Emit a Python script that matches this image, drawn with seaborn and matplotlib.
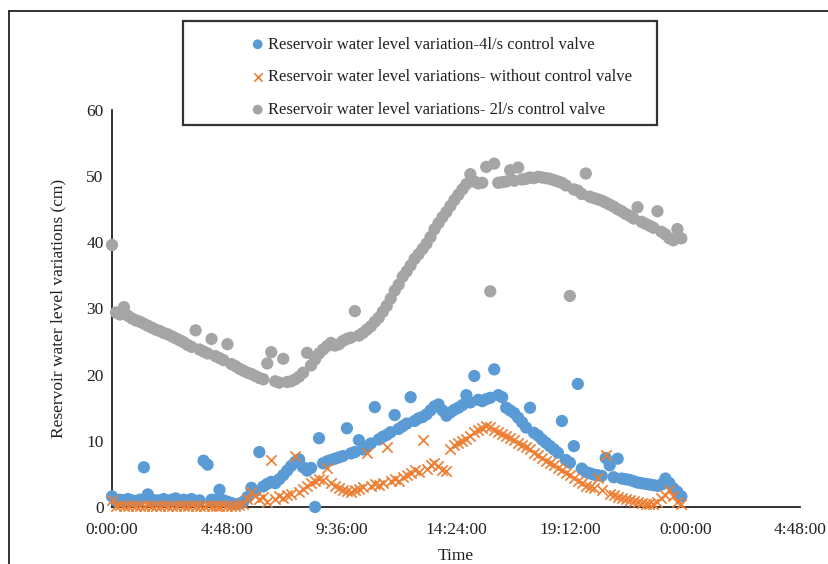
import numpy as np
import pandas as pd
import matplotlib
matplotlib.use("Agg")
import matplotlib.pyplot as plt
from matplotlib.lines import Line2D
from matplotlib.patches import Rectangle
import seaborn as sns

# ---- data (10-minute readings over one day) ----
level_4ls = [
    1.6, 0.9, 1.1, 1.0, 1.2, 1.0, 0.9, 1.1, 6.0, 1.9, 1.1, 1.0,
    1.0, 1.2, 0.9, 1.1, 1.3, 1.0, 1.1, 1.0, 1.2, 0.9, 1.0, 7.0,
    6.4, 1.1, 1.0, 2.6, 1.0, 0.8, 0.6, 0.4, 0.5, 0.8, 1.5, 2.9,
    2.4, 8.3, 3.1, 3.5, 3.8, 3.6, 4.2, 4.8, 5.5, 6.2, 6.8, 7.2,
    6.0, 5.5, 5.9, 0.0, 10.4, 6.6, 6.9, 7.1, 7.3, 7.5, 7.7, 11.9,
    8.1, 8.3, 10.1, 8.7, 9.1, 9.6, 15.1, 10.2, 10.6, 10.9, 11.3, 13.9,
    11.8, 12.2, 12.6, 16.6, 13.0, 13.4, 13.6, 14.0, 14.6, 15.2, 15.5, 14.6,
    13.8, 14.3, 14.7, 15.0, 15.4, 16.9, 15.8, 19.8, 16.2, 16.0, 16.3, 16.5,
    20.8, 16.9, 16.6, 15.0, 14.6, 14.2, 13.5, 12.8, 12.0, 15.0, 11.2, 10.8,
    10.2, 9.7, 9.2, 8.7, 8.2, 13.0, 7.1, 6.7, 9.2, 18.6, 5.8, 5.3,
    5.1, 4.9, 4.8, 4.7, 7.4, 6.3, 4.5, 7.3, 4.3, 4.2, 4.1, 3.9,
    3.7, 3.6, 3.5, 3.4, 3.3, 3.2, 3.4, 4.3, 3.6, 2.8, 2.3, 1.6,
]
level_none = [
    1.0, 0.2, 0.3, 0.1, 0.2, 0.3, 0.2, 0.1, 0.2, 0.3, 0.2, 0.2,
    0.1, 0.3, 0.2, 0.2, 0.1, 0.3, 0.2, 0.2, 0.3, 0.1, 0.2, 0.2,
    0.3, 0.2, 0.1, 0.2, 0.3, 0.2, 0.2, 0.2, 0.3, 0.5, 1.2, 2.2,
    1.6, 1.2, 1.5, 0.8, 7.1, 1.2, 1.6, 1.4, 1.8, 2.0, 7.7, 2.3,
    2.7, 3.1, 3.6, 4.0, 4.3, 4.1, 5.9, 3.6, 3.2, 2.9, 2.6, 2.4,
    2.3, 2.5, 2.7, 3.0, 8.1, 3.2, 3.5, 3.3, 3.7, 9.0, 4.0, 4.2,
    4.0, 4.5, 4.8, 5.2, 5.6, 5.3, 10.2, 5.8, 6.3, 6.6, 6.2, 5.6,
    5.4, 8.8, 9.3, 9.6, 9.9, 10.3, 10.8, 11.3, 11.7, 12.0, 12.3, 12.1,
    11.6, 11.3, 11.0, 10.8, 10.4, 10.1, 9.7, 9.4, 9.1, 8.7, 8.2, 7.8,
    7.4, 7.0, 6.7, 6.3, 5.9, 5.6, 5.2, 4.8, 4.4, 4.0, 3.6, 3.2,
    3.0, 2.8, 4.4, 2.5, 7.9, 2.0, 1.8, 1.5, 1.3, 1.2, 1.1, 0.9,
    0.7, 0.6, 0.5, 0.4, 0.5, 0.8, 1.3, 1.8, 2.6, 1.6, 0.8, 0.5,
]
level_2ls = [
    39.6, 29.4, 29.1, 30.2, 28.9, 28.5, 28.2, 28.0, 27.7, 27.4, 27.1, 26.8,
    26.6, 26.3, 26.1, 25.8, 25.5, 25.2, 24.9, 24.5, 24.2, 26.7, 23.8, 23.5,
    23.2, 25.4, 22.8, 22.5, 22.2, 24.6, 21.6, 21.3, 20.9, 20.6, 20.3, 20.1,
    19.8, 19.5, 19.3, 21.7, 23.4, 19.0, 18.8, 22.4, 18.9, 19.0, 19.3, 19.7,
    20.3, 23.3, 21.4, 22.3, 23.2, 23.8, 24.3, 24.8, 24.4, 24.6, 25.1, 25.4,
    25.6, 29.6, 25.9, 26.3, 26.8, 27.3, 28.0, 28.6, 29.5, 30.4, 31.5, 32.7,
    33.6, 34.8, 35.6, 36.5, 37.5, 38.2, 39.0, 39.8, 40.8, 42.0, 42.9, 43.8,
    44.6, 45.5, 46.4, 47.2, 48.0, 48.8, 50.3, 49.2, 48.9, 49.0, 51.4, 32.6,
    51.9, 49.0, 49.1, 49.2, 50.9, 49.3, 51.3, 49.5, 49.6, 49.8, 49.7, 49.9,
    49.8, 49.7, 49.6, 49.4, 49.2, 49.0, 48.6, 31.9, 48.0, 47.8, 47.3, 50.4,
    46.9, 46.7, 46.5, 46.3, 46.0, 45.7, 45.4, 45.0, 44.7, 44.3, 44.0, 43.6,
    45.3, 43.1, 42.8, 42.5, 42.2, 44.7, 41.6, 41.2, 40.6, 40.3, 42.0, 40.6,
]
time_days = np.arange(len(level_2ls)) / 144.0  # 10-minute steps, in days

tick_pos = [0, 0.2, 0.4, 0.6, 0.8, 1.0, 1.2]
tick_labels = ["0:00:00", "4:48:00", "9:36:00", "14:24:00", "19:12:00", "0:00:00", "4:48:00"]

names = ["Reservoir water level variation-4l/s control valve",
         "Reservoir water level variations- without control valve",
         "Reservoir water level variations- 2l/s control valve"]
colors = ["#5B9BD5", "#ED7D31", "#A5A5A5"]

# ---- plot ----
sns.set_theme(style="white")
plt.rcParams["font.family"] = ["Liberation Serif", "DejaVu Serif"]

fig = plt.figure(figsize=(8.29, 5.64), dpi=100)
ax = fig.add_axes([112/829, 1-507/564, (800-112)/829, (507-110)/564])

sns.scatterplot(x=time_days, y=level_4ls, ax=ax, color=colors[0], s=78,
                edgecolor="none", marker="o", label=names[0], zorder=2, clip_on=False)
sns.scatterplot(x=time_days, y=level_none, ax=ax, color=colors[1], s=55,
                marker="x", linewidth=1.2, label=names[1], zorder=3, clip_on=False)
sns.scatterplot(x=time_days, y=level_2ls, ax=ax, color=colors[2], s=78,
                edgecolor="none", marker="o", label=names[2], zorder=4, clip_on=False)

ax.set_xlim(0, 1.2)
ax.set_ylim(0, 60)
ax.set_xticks(tick_pos)
ax.set_xticklabels(tick_labels)
ax.set_yticks(range(0, 61, 10))
ax.tick_params(axis="both", direction="in", length=4, width=1.2, color="#222222",
               labelsize=12.5, labelcolor="#222222")
ax.tick_params(axis="x", pad=11)
ax.tick_params(axis="y", pad=6)
for sp in ["top", "right"]:
    ax.spines[sp].set_visible(False)
for sp in ["left", "bottom"]:
    ax.spines[sp].set_color("#222222")
    ax.spines[sp].set_linewidth(1.3)
    ax.spines[sp].set_zorder(1)
ax.set_xlabel("Time", fontsize=12.5, color="#222222", labelpad=7)
ax.set_ylabel("Reservoir water level variations (cm)", fontsize=12.5,
              color="#222222", labelpad=14)

handles, labels = ax.get_legend_handles_labels()
ax.get_legend().remove()
leg = fig.legend(handles, labels, loc="upper left",
                 bbox_to_anchor=(241/829, 1-30/564), frameon=False,
                 fontsize=12, handletextpad=0.0, labelspacing=1.0,
                 markerscale=0.8, handlelength=1.2, borderaxespad=0)
for t in leg.get_texts():
    t.set_color("#222222")

# legend box
fig.add_artist(Rectangle((183/829, 1-125/564), (657-183)/829, (125-21)/564,
                         transform=fig.transFigure, fill=False,
                         edgecolor="#333333", linewidth=1.6))
# outer chart frame (left and top)
fig.add_artist(Line2D([9/829, 9/829], [0, 1-11/564], transform=fig.transFigure,
                      color="#111111", linewidth=1.2))
fig.add_artist(Line2D([9/829, 1], [1-11/564, 1-11/564], transform=fig.transFigure,
                      color="#111111", linewidth=1.2))

fig.savefig("out.png", dpi=100, facecolor="white")
